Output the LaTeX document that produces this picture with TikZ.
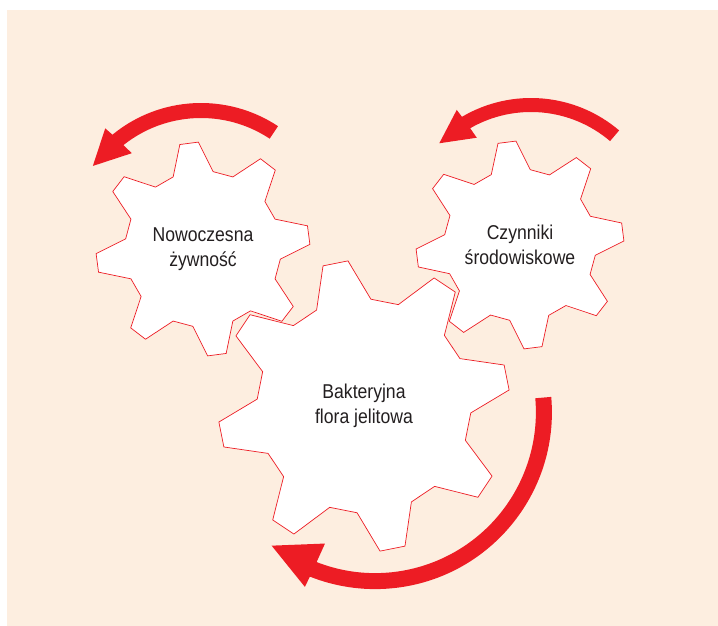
\documentclass[tikz,border=0pt]{standalone}
\usepackage{fontspec}
\setmainfont[FakeStretch=0.88]{Liberation Sans}
\definecolor{bgpeach}{HTML}{FDEEE0}
\definecolor{gearred}{HTML}{ED1C24}
\definecolor{arrowred}{HTML}{ED1C24}
\definecolor{textgray}{HTML}{231F20}
\newcommand\gearpath[5]{%
  \path[#5,shift={(#1)}] ({#4-15}:#3)
    \foreach \k in {0,...,7}{ -- ({#4+45*\k-15}:#3) -- ({#4+45*\k-5}:#2) -- ({#4+45*\k+5}:#2) -- ({#4+45*\k+15}:#3)} -- cycle;}
\begin{document}
\begin{tikzpicture}[x=1pt,y=1pt,
  gearfill/.style={fill=white},
  gearline/.style={draw=gearred,line width=0.7pt,line join=miter},
  lbl/.style={align=center,text=textgray,font=\fontsize{20}{25}\selectfont,inner sep=0pt},
  curvedarrow/.style={fill=arrowred}]
\useasboundingbox (0,0) rectangle (718,626);
\fill[white] (0,0) rectangle (718,626);
\fill[bgpeach] (7,0) rectangle (718,616);
% gear centres
\coordinate (g1) at (203,377);
\coordinate (g2) at (520,381);
\coordinate (g3) at (364,220);
% arrow centres
\coordinate (c1) at (201,383.5);
\coordinate (c2) at (531,392);
\coordinate (c3) at (375.1,213.7);
% arrows
\fill[curvedarrow,shift={(c1)}] (56.5:139.5) arc[start angle=56.5,end angle=129.4,radius=139.5pt]
  -- (130:149) -- (144.7:132.5) -- (127.8:113) -- (128.5:124.5)
  arc[start angle=128.5,end angle=56.5,radius=124.5pt] -- cycle;
\fill[curvedarrow,shift={(c2)}] (49.6:136) arc[start angle=49.6,end angle=120.5,radius=136pt]
  -- (120.9:144.6) -- (135.3:129) -- (119.4:110.5) -- (119.9:122)
  arc[start angle=119.9,end angle=49.6,radius=122pt] -- cycle;
\fill[curvedarrow,shift={(c3)}] (5:176.8) arc[start angle=5,end angle=-111.66,radius=176.8pt]
  -- (-111.9:188.2) -- (-127.8:168.8) -- (-110.9:140.5) -- (-111.33:160.8)
  arc[start angle=-111.33,end angle=5,radius=160.8pt] -- cycle;
% gears: fills first, then outlines
\gearpath{g1}{107}{78}{97.5}{gearfill}
\gearpath{g2}{104}{76}{97.2}{gearfill}
\gearpath{g3}{146}{107}{101.3}{gearfill}
\gearpath{g1}{107}{78}{97.5}{gearline}
\gearpath{g2}{104}{76}{97.2}{gearline}
\gearpath{g3}{146}{107}{101.3}{gearline}
% labels
\node[lbl] (t1) at (g1) {Nowoczesna\\żywność};
\node[lbl] (t2) at (g2) {Czynniki\\środowiskowe};
\node[lbl] (t3) at (g3) {Bakteryjna\\flora jelitowa};
\end{tikzpicture}
\end{document}
